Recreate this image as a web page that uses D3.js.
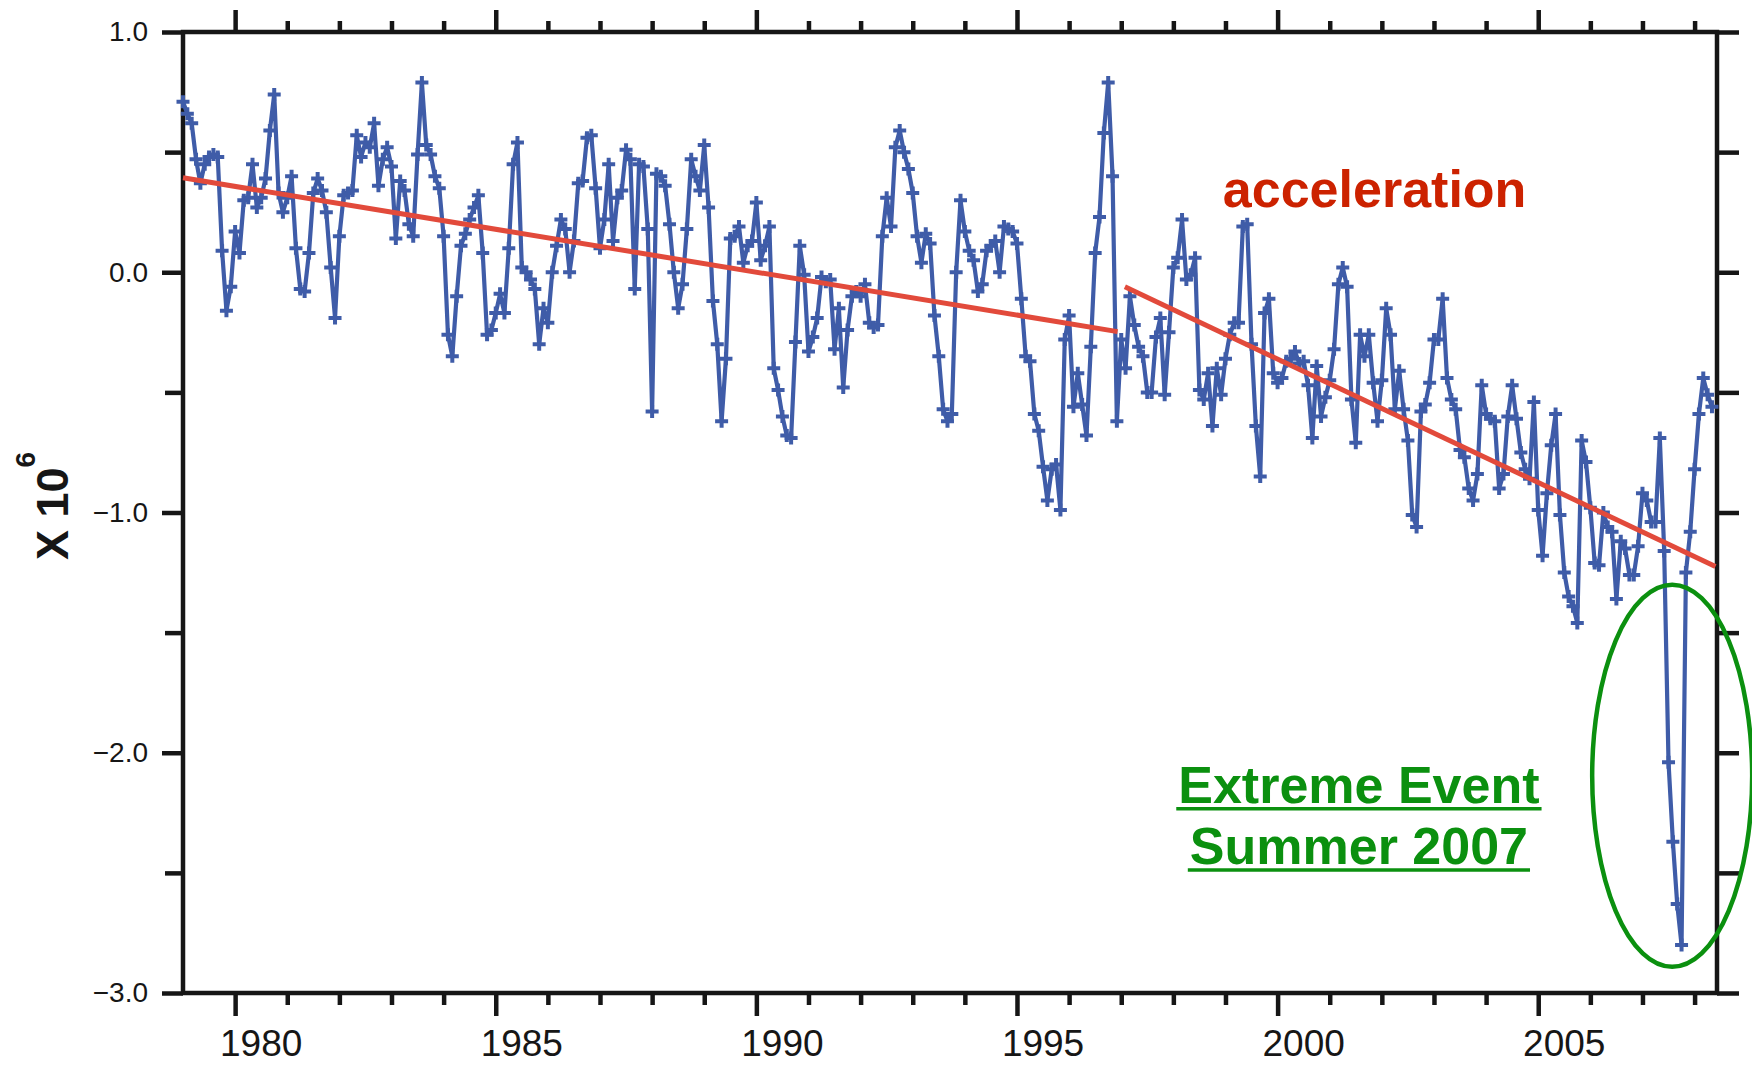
<!DOCTYPE html>
<html>
<head>
<meta charset="utf-8">
<script src="https://cdn.jsdelivr.net/npm/d3@7"></script>
<style>
  html, body { margin: 0; padding: 0; background: #fff; }
  svg { display: block; font-family: "Liberation Sans", Arial, sans-serif; }
</style>
</head>
<body>
<div class="chart"></div>
<script>
// monthly anomalies (x 10^6), first value = Jan 1979
var startYear = 1979;

var anom1979to1983 = [
  0.71, 0.66, 0.62, 0.47, 0.37, 0.45, 0.48, 0.49, 0.48, 0.09, -0.16, -0.06,
  0.17, 0.08, 0.30, 0.31, 0.45, 0.27, 0.31, 0.39, 0.59, 0.74, 0.33, 0.25,
  0.31, 0.40, 0.10, -0.07, -0.08, 0.08, 0.33, 0.39, 0.34, 0.25, 0.02, -0.19,
  0.15, 0.32, 0.33, 0.34, 0.57, 0.48, 0.54, 0.52, 0.62, 0.36, 0.47, 0.52,
  0.44, 0.14, 0.38, 0.34, 0.20, 0.15, 0.49, 0.79, 0.53, 0.49, 0.40, 0.35
];
var anom1984to1988 = [
  0.15, -0.26, -0.35, -0.10, 0.11, 0.16, 0.22, 0.27, 0.32, 0.08, -0.26, -0.24,
  -0.17, -0.09, -0.17, 0.10, 0.45, 0.54, 0.02, 0.00, -0.03, -0.07, -0.30, -0.15,
  -0.21, 0.00, 0.11, 0.22, 0.18, 0.00, 0.13, 0.37, 0.38, 0.56, 0.57, 0.35,
  0.10, 0.22, 0.45, 0.13, 0.31, 0.34, 0.51, 0.47, -0.07, 0.45, 0.44, 0.18,
  -0.58, 0.41, 0.40, 0.36, 0.20, 0.00, -0.15, -0.05, 0.18, 0.47, 0.40, 0.34
];
var anom1989to1993 = [
  0.53, 0.27, -0.12, -0.30, -0.62, -0.36, 0.14, 0.15, 0.19, 0.04, 0.11, 0.13,
  0.29, 0.05, 0.11, 0.19, -0.40, -0.49, -0.60, -0.68, -0.69, -0.29, 0.11, -0.01,
  -0.33, -0.27, -0.19, -0.02, -0.04, -0.03, -0.32, -0.15, -0.48, -0.24, -0.10, -0.08,
  -0.10, -0.05, -0.21, -0.23, -0.22, 0.15, 0.31, 0.19, 0.52, 0.59, 0.50, 0.43,
  0.33, 0.15, 0.04, 0.16, 0.12, -0.18, -0.35, -0.57, -0.62, -0.59, 0.00, 0.30
];
var anom1994to1998 = [
  0.17, 0.09, 0.05, -0.08, -0.05, 0.09, 0.11, 0.13, 0.00, 0.19, 0.18, 0.17,
  0.12, -0.11, -0.35, -0.37, -0.59, -0.66, -0.81, -0.95, -0.82, -0.80, -0.99, -0.28,
  -0.18, -0.56, -0.42, -0.55, -0.68, -0.31, 0.08, 0.23, 0.58, 0.79, 0.40, -0.62,
  -0.28, -0.40, -0.10, -0.22, -0.31, -0.35, -0.50, -0.50, -0.27, -0.19, -0.51, -0.25,
  0.02, 0.06, 0.22, -0.03, -0.01, 0.06, -0.49, -0.53, -0.42, -0.64, -0.40, -0.51
];
var anom1999to2003 = [
  -0.36, -0.26, -0.21, -0.21, 0.19, 0.20, -0.30, -0.64, -0.85, -0.17, -0.11, -0.42,
  -0.46, -0.44, -0.37, -0.36, -0.33, -0.38, -0.37, -0.47, -0.69, -0.39, -0.60, -0.52,
  -0.45, -0.32, -0.05, 0.02, -0.06, -0.53, -0.71, -0.26, -0.35, -0.26, -0.46, -0.62,
  -0.45, -0.15, -0.26, -0.57, -0.41, -0.57, -0.70, -1.01, -1.06, -0.58, -0.55, -0.46,
  -0.28, -0.28, -0.11, -0.44, -0.53, -0.57, -0.74, -0.77, -0.90, -0.95, -0.84, -0.47
];
var anom2004to2008 = [
  -0.59, -0.61, -0.62, -0.90, -0.84, -0.60, -0.47, -0.61, -0.75, -0.82, -0.86, -0.54,
  -0.99, -1.18, -0.92, -0.72, -0.59, -1.01, -1.25, -1.35, -1.39, -1.46, -0.70, -0.79,
  -0.98, -1.21, -1.22, -1.00, -1.06, -1.08, -1.36, -1.12, -1.15, -1.26, -1.26, -1.14,
  -0.92, -0.95, -1.04, -1.04, -0.69, -1.16, -2.04, -2.37, -2.63, -2.80, -1.25, -1.08,
  -0.82, -0.59, -0.44, -0.51, -0.56
];

// hand drawn trend lines
var trendEarlyYears = [1979.0, 1996.93];
var trendEarlyValues = [0.393, -0.247];
var trendLateYears = [1997.07, 2008.40];
var trendLateValues = [-0.06, -1.225];

// axes
var xDomain = [1979, 2008.43];
var yDomain = [-3, 1];
var xMajorYears = [1980, 1985, 1990, 1995, 2000, 2005];
var xMinorYears = [1981, 1982, 1983, 1984, 1986, 1987, 1988, 1989, 1991, 1992, 1993, 1994,
                   1996, 1997, 1998, 1999, 2001, 2002, 2003, 2004, 2006, 2007, 2008];
var yMajorTicks = [1, 0, -1, -2, -3];
var yMinorTicks = [0.5, -0.5, -1.5, -2.5];

var svgWidth = 1752;
var svgHeight = 1066;
var margin = { top: 32, right: 35, bottom: 73, left: 183 };
var width = svgWidth - margin.left - margin.right;
var height = svgHeight - margin.top - margin.bottom;

var ink = "#161616";
var blue = "#3f5ca8";
var red = "#e24a3b";
var green = "#0b900f";

var svg = d3.select(".chart")
  .append("svg")
  .attr("width", svgWidth)
  .attr("height", svgHeight);

var chartGroup = svg.append("g")
  .attr("transform", `translate(${margin.left}, ${margin.top})`);

var x = d3.scaleLinear().domain(xDomain).range([0, width]);
var y = d3.scaleLinear().domain(yDomain).range([height, 0]);

var series = [].concat(anom1979to1983, anom1984to1988, anom1989to1993,
                       anom1994to1998, anom1999to2003, anom2004to2008)
  .map(function(v, i) { return { year: startYear + i / 12, value: v }; });

// ticks
function styleTicks(g) {
  g.select(".domain").remove();
  g.selectAll(".tick line").attr("stroke", ink).attr("stroke-width", 4.5);
}

chartGroup.append("g").attr("transform", `translate(0,${height})`)
  .call(d3.axisBottom(x).tickValues(xMajorYears).tickSize(23).tickFormat(""))
  .call(styleTicks);
chartGroup.append("g").attr("transform", `translate(0,${height})`)
  .call(d3.axisBottom(x).tickValues(xMinorYears).tickSize(12).tickFormat(""))
  .call(styleTicks);
chartGroup.append("g")
  .call(d3.axisTop(x).tickValues(xMajorYears).tickSize(22).tickFormat(""))
  .call(styleTicks);
chartGroup.append("g")
  .call(d3.axisTop(x).tickValues(xMinorYears).tickSize(11).tickFormat(""))
  .call(styleTicks);

var yAxisLeft = chartGroup.append("g")
  .call(d3.axisLeft(y).tickValues(yMajorTicks).tickSize(21).tickPadding(14)
    .tickFormat(d3.format(".1f")))
  .call(styleTicks);
yAxisLeft.selectAll("text")
  .attr("fill", ink)
  .style("font-family", "'Liberation Sans', Arial, sans-serif")
  .style("font-size", "28px");

chartGroup.append("g")
  .call(d3.axisLeft(y).tickValues(yMinorTicks).tickSize(18).tickFormat(""))
  .call(styleTicks);
chartGroup.append("g").attr("transform", `translate(${width},0)`)
  .call(d3.axisRight(y).tickValues(yMajorTicks.concat(yMinorTicks)).tickSize(22).tickFormat(""))
  .call(styleTicks);

// year labels sit in the middle of the year
chartGroup.selectAll(".xlabel")
  .data(xMajorYears)
  .enter()
  .append("text")
  .attr("class", "xlabel")
  .attr("x", function(d) { return x(d + 0.5); })
  .attr("y", 1056 - margin.top)
  .attr("text-anchor", "middle")
  .attr("fill", ink)
  .style("font-size", "37px")
  .text(function(d) { return d; });

// frame
chartGroup.append("rect")
  .attr("width", width)
  .attr("height", height)
  .attr("fill", "none")
  .attr("stroke", ink)
  .attr("stroke-width", 4.5);

// y title
var yTitle = svg.append("text")
  .attr("transform", "translate(68,560) rotate(-90)")
  .attr("fill", ink)
  .style("font-weight", "bold")
  .style("font-size", "45px");
yTitle.append("tspan").text("X 10");
yTitle.append("tspan").attr("dy", -33).style("font-size", "28px").text("6");

// data line with + markers
var line = d3.line()
  .x(function(d) { return x(d.year); })
  .y(function(d) { return y(d.value); });

chartGroup.append("path")
  .datum(series)
  .attr("d", line)
  .attr("fill", "none")
  .attr("stroke", blue)
  .attr("stroke-width", 4.2)
  .attr("stroke-linejoin", "round");

chartGroup.selectAll(".mark")
  .data(series)
  .enter()
  .append("path")
  .attr("class", "mark")
  .attr("transform", function(d) { return `translate(${x(d.year)},${y(d.value)})`; })
  .attr("d", "M-6.5,0H6.5M0,-6.5V6.5")
  .attr("stroke", blue)
  .attr("stroke-width", 4);

// trend lines
function drawTrend(years, values) {
  var pts = years.map(function(yr, i) { return { year: yr, value: values[i] }; });
  chartGroup.append("path")
    .datum(pts)
    .attr("d", line)
    .attr("fill", "none")
    .attr("stroke", red)
    .attr("stroke-width", 5);
}
drawTrend(trendEarlyYears, trendEarlyValues);
drawTrend(trendLateYears, trendLateValues);

// annotations
chartGroup.append("text")
  .attr("x", x(1998.95))
  .attr("y", y(0.271))
  .attr("fill", "#cc2200")
  .style("font-weight", "bold")
  .style("font-size", "52px")
  .text("acceleration");

chartGroup.append("ellipse")
  .attr("cx", x(2007.57))
  .attr("cy", y(-2.096))
  .attr("rx", 80)
  .attr("ry", 191)
  .attr("fill", "none")
  .attr("stroke", green)
  .attr("stroke-width", 4.5);

var eventLines = ["Extreme Event", "Summer 2007"];
var eventValues = [-2.208, -2.463];
eventLines.forEach(function(txt, i) {
  var t = chartGroup.append("text")
    .attr("x", x(2001.56))
    .attr("y", y(eventValues[i]))
    .attr("text-anchor", "middle")
    .attr("fill", green)
    .style("font-weight", "bold")
    .style("font-size", "52px")
    .text(txt);
  var bb = t.node().getBBox();
  chartGroup.append("line")
    .attr("x1", bb.x - 2)
    .attr("x2", bb.x + bb.width + 2)
    .attr("y1", y(eventValues[i]) + 6)
    .attr("y2", y(eventValues[i]) + 6)
    .attr("stroke", green)
    .attr("stroke-width", 3.5);
});
</script>
</body>
</html>
